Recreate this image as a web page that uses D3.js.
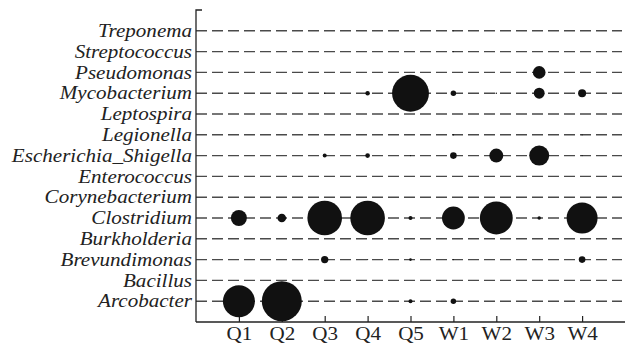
<!DOCTYPE html>
<html>
<head>
<meta charset="utf-8">
<script src="https://cdn.jsdelivr.net/npm/d3@7"></script>
<style>
  body { margin: 0; background: #fff; }
  svg { display: block; }
</style>
</head>
<body>
<div id="chart"></div>
<script>
const width = 625;
const height = 348;

// genera, top to bottom
const genera = [
  "Treponema", "Streptococcus", "Pseudomonas", "Mycobacterium", "Leptospira",
  "Legionella", "Escherichia_Shigella", "Enterococcus", "Corynebacterium",
  "Clostridium", "Burkholderia", "Brevundimonas", "Bacillus", "Arcobacter"
];
const samples = ["Q1", "Q2", "Q3", "Q4", "Q5", "W1", "W2", "W3", "W4"];

// relative abundance (%) per genus, one value per sample
const treponema      = [0, 0, 0, 0, 0, 0.03, 0, 0, 0];
const streptococcus  = [0, 0, 0, 0, 0, 0.03, 0, 0, 0];
const pseudomonas    = [0, 0, 0, 0, 0, 0, 0, 4.0, 0];
const mycobacterium  = [0, 0, 0.05, 0.5, 34, 0.75, 0.05, 3.0, 1.6];
const leptospira     = [0, 0, 0, 0, 0, 0, 0, 0, 0];
const legionella     = [0, 0, 0, 0, 0, 0.06, 0, 0, 0.04];
const escherichia    = [0, 0, 0.4, 0.55, 0.04, 1.1, 4.9, 10, 0.04];
const enterococcus   = [0, 0, 0, 0, 0, 0, 0, 0, 0];
const corynebacterium= [0, 0, 0, 0, 0, 0, 0, 0, 0];
const clostridium    = [6.4, 1.85, 30, 30, 0.4, 13, 27, 0.3, 24];
const burkholderia   = [0, 0, 0, 0, 0, 0, 0, 0, 0];
const brevundimonas  = [0, 0, 1.35, 0.04, 0.17, 0.03, 0, 0, 1.1];
const bacillus       = [0, 0, 0, 0, 0, 0, 0, 0, 0];
const arcobacter     = [25.6, 40, 0, 0, 0.4, 0.75, 0, 0, 0];

const rows = [
  treponema, streptococcus, pseudomonas, mycobacterium, leptospira,
  legionella, escherichia, enterococcus, corynebacterium,
  clostridium, burkholderia, brevundimonas, bacillus, arcobacter
];

const cells = [];
genera.forEach((g, i) => {
  samples.forEach((s, j) => {
    cells.push({ genus: g, sample: s, value: rows[i][j] });
  });
});

const margin = { top: 10, right: 0, bottom: 26, left: 196 };
const serif = "Liberation Serif, Times New Roman, serif";

const svg = d3.select("#chart")
  .append("svg")
  .attr("width", width)
  .attr("height", height);

const x = d3.scalePoint()
  .domain(samples)
  .range([margin.left, width - margin.right])
  .padding(1);

const y = d3.scalePoint()
  .domain(genera)
  .range([margin.top, height - margin.bottom])
  .padding(1);

const r = d3.scaleSqrt()
  .domain([0, 40])
  .range([0, 20]);

// the original labels look a bit wider than plain Times
function stretch(sel, k) {
  sel.each(function() {
    const len = this.getComputedTextLength();
    d3.select(this)
      .attr("textLength", len * k)
      .attr("lengthAdjust", "spacingAndGlyphs");
  });
}

// dashed row lines
svg.append("g")
  .selectAll("line")
  .data(genera)
  .join("line")
  .attr("x1", margin.left)
  .attr("x2", width - 3)
  .attr("y1", d => y(d))
  .attr("y2", d => y(d))
  .attr("stroke", "#4a4a4a")
  .attr("stroke-width", 1.4)
  .attr("stroke-dasharray", "11,5");

// y axis
const yAxis = svg.append("g")
  .attr("transform", `translate(${margin.left},0)`)
  .call(d3.axisLeft(y).tickSize(0).tickPadding(4));
yAxis.select(".domain").attr("stroke", "#222").attr("stroke-width", 1.3)
  .attr("d", `M6,${margin.top}H0V${height - margin.bottom}`);
yAxis.selectAll("text")
  .attr("font-family", serif)
  .attr("font-style", "italic")
  .attr("font-size", 18)
  .attr("fill", "#222")
  .call(stretch, 1.17);

// x axis, ticks pointing inward
const xAxis = svg.append("g")
  .attr("transform", `translate(0,${height - margin.bottom})`)
  .call(d3.axisBottom(x).tickSize(-6).tickPadding(5));
xAxis.select(".domain").attr("stroke", "#222").attr("stroke-width", 1.3)
  .attr("d", `M${margin.left},0H${width}`);
xAxis.selectAll(".tick line").attr("stroke", "#222").attr("stroke-width", 1.2);
xAxis.selectAll("text")
  .attr("font-family", serif)
  .attr("font-size", 18)
  .attr("fill", "#222")
  .call(stretch, 1.17);

// bubbles
svg.append("g")
  .selectAll("circle")
  .data(cells.filter(d => d.value > 0))
  .join("circle")
  .attr("cx", d => x(d.sample))
  .attr("cy", d => y(d.genus))
  .attr("r", d => r(d.value))
  .attr("fill", "#111");
</script>
</body>
</html>
